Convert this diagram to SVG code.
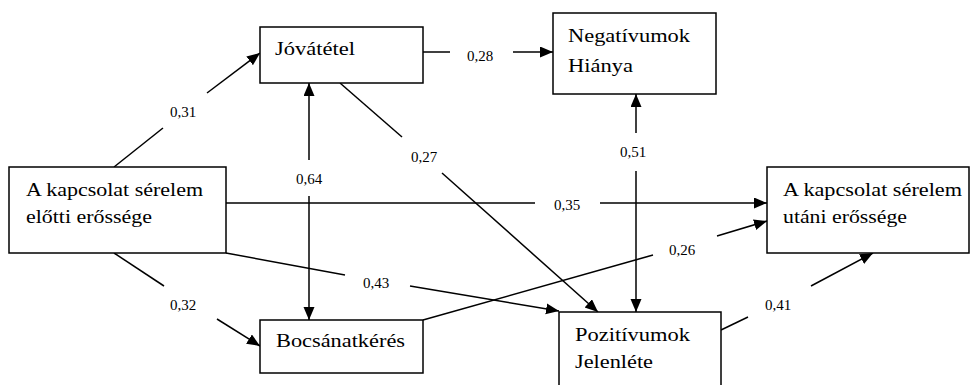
<svg xmlns="http://www.w3.org/2000/svg" width="971" height="385" viewBox="0 0 971 385">
<style>
.box{fill:#fff;stroke:#000;stroke-width:1.5}
.t{font-family:"Liberation Serif","Times New Roman",serif;font-size:19px;fill:#000}
.n{font-family:"Liberation Serif","Times New Roman",serif;font-size:15px;fill:#000;text-anchor:middle}
.c{stroke:#000;stroke-width:1.5;fill:none}
.e{marker-end:url(#ah)}
.s{marker-start:url(#ah)}
</style>
<defs>
<marker id="ah" markerUnits="userSpaceOnUse" markerWidth="14" markerHeight="12" refX="13" refY="5.5" orient="auto-start-reverse">
<path d="M0,0 L13,5.5 L0,11 z" fill="#000"/>
</marker>
</defs>
<rect width="971" height="385" fill="#fff"/>
<g id="connectors">
<line class="c" x1="114" y1="167" x2="163" y2="128"/>
<line class="c e" x1="207" y1="93" x2="260" y2="53"/>
<line class="c" x1="423" y1="52" x2="450" y2="52"/>
<line class="c e" x1="513" y1="52" x2="553" y2="52"/>
<line class="c s" x1="309" y1="83" x2="309" y2="160"/>
<line class="c e" x1="309" y1="196" x2="309" y2="320"/>
<line class="c" x1="340" y1="83" x2="402" y2="137"/>
<line class="c e" x1="442" y1="173" x2="598" y2="312"/>
<line class="c s" x1="636" y1="94" x2="636" y2="133"/>
<line class="c e" x1="636" y1="171" x2="636" y2="312"/>
<line class="c" x1="226" y1="203" x2="535" y2="203"/>
<line class="c e" x1="600" y1="203" x2="767" y2="203"/>
<line class="c" x1="226" y1="253" x2="345" y2="275"/>
<line class="c e" x1="410" y1="286" x2="559" y2="311"/>
<line class="c" x1="114" y1="253" x2="164" y2="286"/>
<line class="c e" x1="217" y1="319" x2="260" y2="346"/>
<line class="c" x1="423" y1="320" x2="653" y2="255"/>
<line class="c e" x1="717" y1="236" x2="767" y2="221"/>
<line class="c" x1="721" y1="330" x2="748" y2="317"/>
<line class="c e" x1="811" y1="286" x2="873" y2="253"/>
<text class="n" x="183" y="117">0,31</text>
<text class="n" x="480" y="61">0,28</text>
<text class="n" x="309" y="184">0,64</text>
<text class="n" x="424" y="162">0,27</text>
<text class="n" x="633" y="157">0,51</text>
<text class="n" x="567" y="210">0,35</text>
<text class="n" x="376" y="288">0,43</text>
<text class="n" x="183" y="310">0,32</text>
<text class="n" x="682" y="255">0,26</text>
<text class="n" x="778" y="310">0,41</text>
</g>
<g id="jovatetel">
<rect class="box" x="260" y="27" width="163" height="56"/>
<text class="t" x="275" y="55" textLength="80" lengthAdjust="spacingAndGlyphs">Jóvátétel</text>
</g>
<g id="negativumok">
<rect class="box" x="553" y="13" width="163" height="81"/>
<text class="t" x="568" y="42" textLength="122" lengthAdjust="spacingAndGlyphs">Negatívumok</text>
<text class="t" x="568" y="72" textLength="65" lengthAdjust="spacingAndGlyphs">Hiánya</text>
</g>
<g id="elotti">
<rect class="box" x="9" y="167" width="217" height="86"/>
<text class="t" x="26" y="196" textLength="177" lengthAdjust="spacingAndGlyphs">A kapcsolat sérelem</text>
<text class="t" x="26" y="223" textLength="126" lengthAdjust="spacingAndGlyphs">előtti erőssége</text>
</g>
<g id="utani">
<rect class="box" x="767" y="167" width="202" height="86"/>
<text class="t" x="783" y="196" textLength="179" lengthAdjust="spacingAndGlyphs">A kapcsolat sérelem</text>
<text class="t" x="783" y="223" textLength="124" lengthAdjust="spacingAndGlyphs">utáni erőssége</text>
</g>
<g id="bocsanatkeres">
<rect class="box" x="260" y="320" width="163" height="53"/>
<text class="t" x="276" y="347" textLength="129" lengthAdjust="spacingAndGlyphs">Bocsánatkérés</text>
</g>
<g id="pozitivumok">
<rect class="box" x="559" y="312" width="162" height="80"/>
<text class="t" x="575" y="341" textLength="115" lengthAdjust="spacingAndGlyphs">Pozitívumok</text>
<text class="t" x="575" y="368" textLength="78" lengthAdjust="spacingAndGlyphs">Jelenléte</text>
</g>
</svg>
